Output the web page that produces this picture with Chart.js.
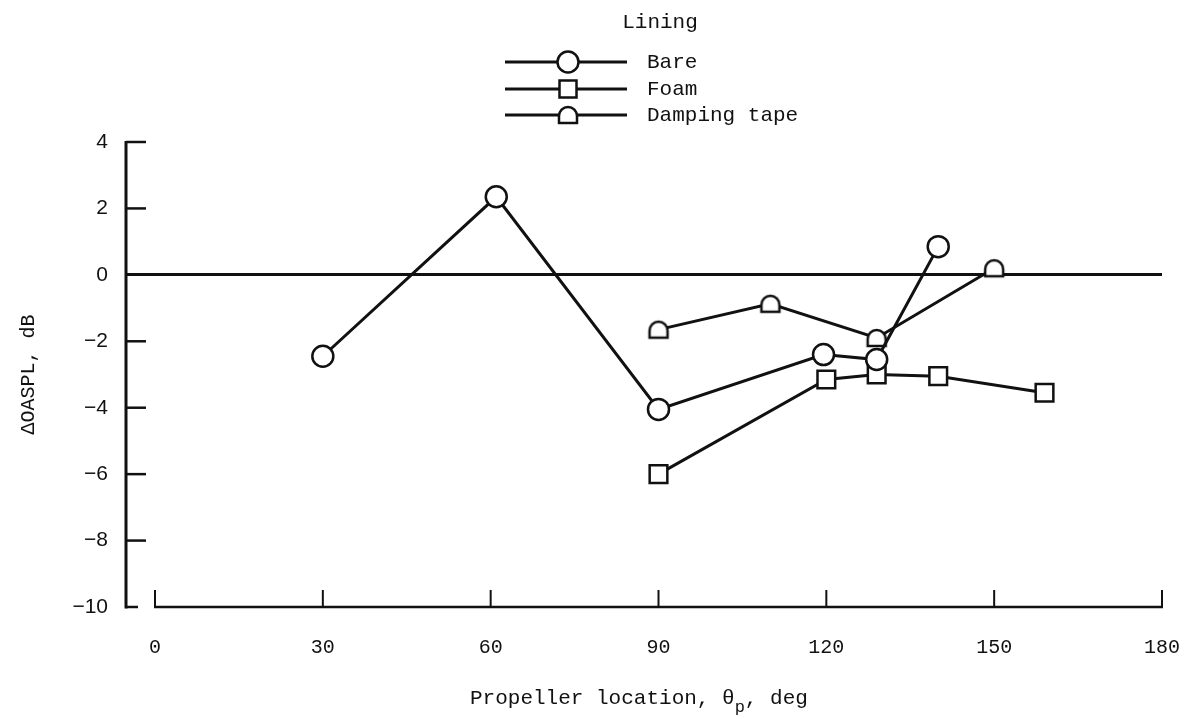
<!DOCTYPE html>
<html>
<head>
<meta charset="utf-8">
<script src="https://cdn.jsdelivr.net/npm/chart.js@4.4.1/dist/chart.umd.min.js"></script>
<style>
  body { margin: 0; background: #fff; }
  canvas { display: block; }
</style>
</head>
<body>
<canvas id="chart" width="1186" height="719"></canvas>
<script>
// ticks
const xTicks = [0, 30, 60, 90, 120, 150, 180];
const yTicks = [4, 2, 0, -2, -4, -6, -8, -10];

// series
const bareX = [30, 61, 90, 119.5, 129, 140];
const bareY = [-2.45, 2.35, -4.05, -2.4, -2.55, 0.85];
const foamX = [90, 120, 129, 140, 159];
const foamY = [-6.0, -3.15, -3.0, -3.05, -3.55];
const tapeX = [90, 110, 129, 150];
const tapeY = [-1.65, -0.87, -1.9, 0.2];

const legendTitle = 'Lining';
const seriesNames = ['Bare', 'Foam', 'Damping tape'];

const INK = '#111';
const MONO = "'Liberation Mono', 'DejaVu Sans Mono', monospace";
const SANS = "'Liberation Sans', Arial, sans-serif";

function toPoints(xs, ys) {
  var pts = [];
  for (var i = 0; i < xs.length; i++) {
    pts.push({x: xs[i], y: ys[i]});
  }
  return pts;
}

// half round marker (flat bottom, round top)
function drawDome(ctx, cx, cy) {
  const r = 9, s = 7;
  const top = cy - (r + s) / 2;
  const cc = top + r;
  const bottom = cc + s;
  ctx.beginPath();
  ctx.moveTo(cx - r, bottom);
  ctx.lineTo(cx - r, cc);
  ctx.arc(cx, cc, r, Math.PI, 0);
  ctx.lineTo(cx + r, bottom);
  ctx.closePath();
  ctx.fillStyle = '#fff';
  ctx.fill();
  ctx.lineWidth = 2.5;
  ctx.strokeStyle = INK;
  ctx.stroke();
}

function makeDome() {
  const c = document.createElement('canvas');
  c.width = 26; c.height = 26;
  drawDome(c.getContext('2d'), 13, 13);
  return c;
}
const domeImg = makeDome();

const axisPlugin = {
  id: 'axisMarks',
  afterDraw(chart) {
    const ctx = chart.ctx;
    const xs = chart.scales.x, ys = chart.scales.y;
    ctx.save();
    ctx.strokeStyle = INK;
    ctx.lineCap = 'butt';

    // y axis and inside ticks
    const ax = xs.left + 1;
    ctx.lineWidth = 3;
    ctx.beginPath();
    ctx.moveTo(ax, ys.top - 1);
    ctx.lineTo(ax, ys.bottom + 1.5);
    ctx.stroke();
    ctx.lineWidth = 2.5;
    yTicks.forEach(function (v) {
      if (v === 0) return;
      const y = ys.getPixelForValue(v);
      const len = (v === yTicks[yTicks.length - 1]) ? 12 : 20;
      ctx.beginPath();
      ctx.moveTo(ax, y);
      ctx.lineTo(ax + len, y);
      ctx.stroke();
    });

    // x axis from 0 to 180 and inside ticks
    const by = ys.bottom;
    const x0 = xs.getPixelForValue(xTicks[0]);
    const x1 = xs.getPixelForValue(xTicks[xTicks.length - 1]);
    ctx.lineWidth = 2.5;
    ctx.beginPath();
    ctx.moveTo(x0 - 1, by);
    ctx.lineTo(x1 + 1, by);
    ctx.stroke();
    ctx.lineWidth = 2;
    xTicks.forEach(function (v) {
      const x = xs.getPixelForValue(v);
      ctx.beginPath();
      ctx.moveTo(x, by);
      ctx.lineTo(x, by - 17);
      ctx.stroke();
    });

    // legend
    ctx.fillStyle = INK;
    ctx.font = '21px ' + MONO;
    ctx.textAlign = 'center';
    ctx.textBaseline = 'middle';
    ctx.fillText(legendTitle, 660, 22);
    const rows = [62, 89, 115];
    ctx.textAlign = 'left';
    chart.data.datasets.forEach(function (ds, i) {
      const y = rows[i];
      ctx.lineWidth = 3;
      ctx.strokeStyle = INK;
      ctx.beginPath();
      ctx.moveTo(505, y);
      ctx.lineTo(627, y);
      ctx.stroke();
      if (ds.pointStyle === 'circle') {
        ctx.beginPath();
        ctx.arc(568, y, 10.5, 0, Math.PI * 2);
        ctx.fillStyle = '#fff';
        ctx.fill();
        ctx.lineWidth = 2.5;
        ctx.stroke();
      } else if (ds.pointStyle === 'rect') {
        ctx.fillStyle = '#fff';
        ctx.fillRect(559.5, y - 8.5, 17, 17);
        ctx.lineWidth = 2.5;
        ctx.strokeRect(559.5, y - 8.5, 17, 17);
      } else {
        drawDome(ctx, 568, y);
      }
      ctx.fillStyle = INK;
      ctx.font = '21px ' + MONO;
      ctx.fillText(ds.label, 647, y);
    });

    // x axis title with subscript
    ctx.textBaseline = 'alphabetic';
    ctx.textAlign = 'left';
    let tx = 470;
    const base = 704;
    ctx.font = '21px ' + MONO;
    const t1 = 'Propeller location, \u03B8';
    ctx.fillText(t1, tx, base);
    tx += ctx.measureText(t1).width;
    ctx.font = '17px ' + MONO;
    ctx.fillText('p', tx, base + 8);
    tx += ctx.measureText('p').width;
    ctx.font = '21px ' + MONO;
    ctx.fillText(', deg', tx, base);

    ctx.restore();
  }
};

const config = {
  type: 'line',
  data: {
    datasets: [
      {
        label: seriesNames[0],
        data: toPoints(bareX, bareY),
        pointStyle: 'circle',
        pointRadius: 10.5,
        pointHoverRadius: 10.5
      },
      {
        label: seriesNames[1],
        data: toPoints(foamX, foamY),
        pointStyle: 'rect',
        pointRadius: 12.5,
        pointHoverRadius: 12.5
      },
      {
        label: seriesNames[2],
        data: toPoints(tapeX, tapeY),
        pointStyle: domeImg,
        pointRadius: 10,
        pointHoverRadius: 10
      }
    ]
  },
  options: {
    responsive: false,
    animation: false,
    events: [],
    layout: { padding: { top: 142, right: 24, left: 0, bottom: 0 } },
    elements: {
      line: { borderColor: INK, borderWidth: 3, tension: 0, fill: false },
      point: { backgroundColor: '#fff', borderColor: INK, borderWidth: 2.5 }
    },
    plugins: {
      legend: { display: false },
      title: { display: false },
      tooltip: { enabled: false }
    },
    scales: {
      x: {
        type: 'linear',
        min: -5.363,
        max: 180,
        afterBuildTicks: function (scale) {
          scale.ticks = xTicks.map(function (v) { return {value: v}; });
        },
        afterFit: function (scale) {
          scale.height = 112;
          scale.paddingLeft = 0;
          scale.paddingRight = 0;
        },
        grid: { display: false },
        border: { display: false },
        ticks: {
          color: INK,
          padding: 21,
          maxRotation: 0,
          font: { family: MONO, size: 20 }
        }
      },
      y: {
        type: 'linear',
        min: -10,
        max: 4,
        afterBuildTicks: function (scale) {
          scale.ticks = yTicks.map(function (v) { return {value: v}; });
        },
        afterFit: function (scale) { scale.width = 125; },
        grid: {
          drawTicks: false,
          lineWidth: 3,
          color: function (c) {
            return (c.tick && c.tick.value === 0) ? INK : 'rgba(0,0,0,0)';
          }
        },
        border: { display: false },
        title: {
          display: true,
          text: '\u0394OASPL, dB',
          color: INK,
          font: { family: MONO, size: 20 },
          padding: { top: 17, bottom: 0 }
        },
        ticks: {
          color: INK,
          padding: 17,
          font: { family: SANS, size: 21 },
          callback: function (v) { return String(v).replace('-', '\u2212'); }
        }
      }
    }
  },
  plugins: [axisPlugin]
};

new Chart(document.getElementById('chart'), config);
</script>
</body>
</html>
